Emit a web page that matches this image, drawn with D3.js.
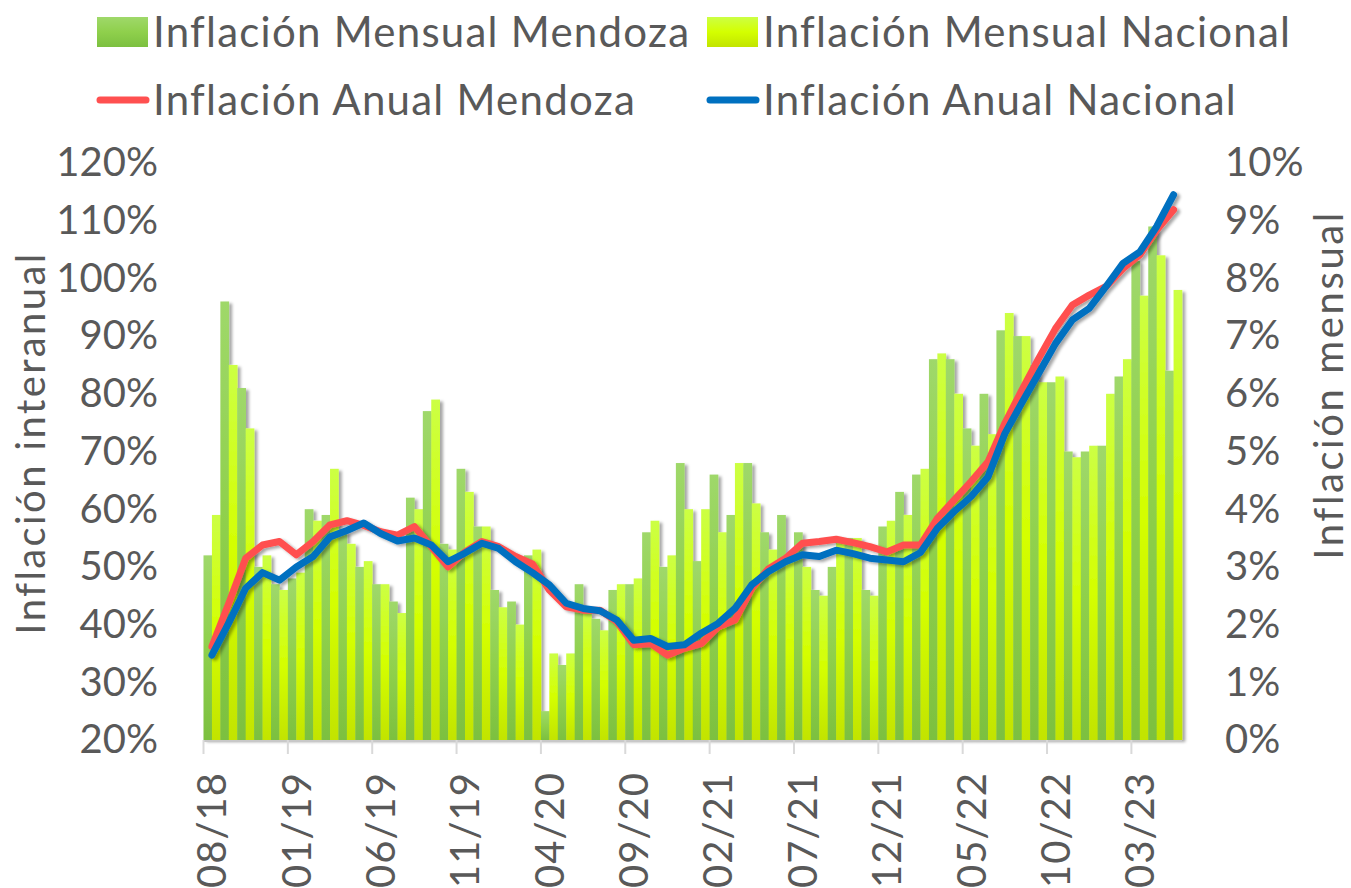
<!DOCTYPE html>
<html>
<head>
<meta charset="utf-8">
<script src="https://cdn.jsdelivr.net/npm/d3@7"></script>
<style>
  body { margin: 0; background: #fff; }
  text { font-family: Lato, "Open Sans", sans-serif; fill: #595959; }
</style>
</head>
<body>
<div id="chart"></div>
<script>
// Datos del gráfico
const meses = ["08/18","09/18","10/18","11/18","12/18","01/19","02/19","03/19","04/19","05/19",
  "06/19","07/19","08/19","09/19","10/19","11/19","12/19","01/20","02/20","03/20",
  "04/20","05/20","06/20","07/20","08/20","09/20","10/20","11/20","12/20","01/21",
  "02/21","03/21","04/21","05/21","06/21","07/21","08/21","09/21","10/21","11/21",
  "12/21","01/22","02/22","03/22","04/22","05/22","06/22","07/22","08/22","09/22",
  "10/22","11/22","12/22","01/23","02/23","03/23","04/23","05/23"];

const mensualMendoza = [3.2,7.6,6.1,3.0,2.7,2.8,4.0,3.9,3.6,3.0,
  2.7,2.4,4.2,5.7,3.4,4.7,3.7,2.6,2.4,3.2,
  0.5,1.3,2.7,2.1,2.6,2.7,3.6,3.0,4.8,3.1,
  4.6,3.9,4.8,3.6,3.9,3.6,2.6,3.0,3.5,2.6,
  3.7,4.3,4.6,6.6,6.6,5.4,6.0,7.1,7.0,6.5,
  6.2,5.0,5.0,5.1,6.3,8.3,8.9,6.4];

const mensualNacional = [3.9,6.5,5.4,3.2,2.6,2.9,3.8,4.7,3.4,3.1,
  2.7,2.2,4.0,5.9,3.3,4.3,3.7,2.3,2.0,3.3,
  1.5,1.5,2.2,1.9,2.7,2.8,3.8,3.2,4.0,4.0,
  3.6,4.8,4.1,3.3,3.2,3.0,2.5,3.5,3.5,2.5,
  3.8,3.9,4.7,6.7,6.0,5.1,5.3,7.4,7.0,6.2,
  6.3,4.9,5.1,6.0,6.6,7.7,8.4,7.8];

const anualMendoza = [36.2,43.7,51.5,53.8,54.4,52.1,54.4,57.3,58.0,57.2,
  56.1,55.5,57.0,53.5,50.0,52.6,54.4,53.5,51.8,50.5,
  46.0,43.1,42.5,42.5,40.5,36.5,36.7,34.7,35.9,36.7,
  39.6,40.8,46.3,49.7,51.5,54.1,54.4,54.8,54.2,53.5,
  52.6,53.8,53.8,58.4,61.6,64.8,68.2,74.9,80.6,86.1,
  91.3,95.4,97.1,98.6,101.7,104.1,108.4,111.9];

const anualNacional = [34.7,40.3,46.3,49.0,47.7,50.0,51.8,55.2,56.3,57.6,
  55.8,54.5,55.0,53.8,50.9,52.4,54.1,53.2,50.9,49.0,
  46.9,43.7,42.8,42.4,40.8,37.3,37.6,36.2,36.5,38.5,
  40.2,42.8,46.9,49.2,50.9,52.1,51.8,52.9,52.3,51.5,
  51.2,50.9,52.5,56.7,59.6,62.2,65.6,73.1,78.4,83.5,
  88.7,92.8,94.8,98.6,102.6,104.6,109.0,114.5];

const ticksIzq = [20,30,40,50,60,70,80,90,100,110,120];
const ticksDer = [0,1,2,3,4,5,6,7,8,9,10];
const mesesEtiqueta = meses.filter((m, i) => i % 5 === 0);

//------Armado de las series
const barras = meses.map((m, i) => ({ mes: m, Mendoza: mensualMendoza[i], Nacional: mensualNacional[i] }));
const lineas = [
  { nombre: "Inflación Anual Mendoza", color: "#ff5050", valores: anualMendoza },
  { nombre: "Inflación Anual Nacional", color: "#0070c0", valores: anualNacional }
];

//------SVG
const svg = d3.select("#chart").append("svg")
  .attr("width", 1351)
  .attr("height", 888);

const defs = svg.append("defs");

const gradMendoza = defs.append("linearGradient").attr("id", "gMendoza")
  .attr("x1", 0).attr("y1", 0).attr("x2", 0).attr("y2", 1);
gradMendoza.append("stop").attr("offset", "0%").attr("stop-color", "#9fd86a");
gradMendoza.append("stop").attr("offset", "50%").attr("stop-color", "#8fd04c");
gradMendoza.append("stop").attr("offset", "100%").attr("stop-color", "#7cc040");

const gradNacional = defs.append("linearGradient").attr("id", "gNacional")
  .attr("x1", 0).attr("y1", 0).attr("x2", 0).attr("y2", 1);
gradNacional.append("stop").attr("offset", "0%").attr("stop-color", "#ccff44");
gradNacional.append("stop").attr("offset", "50%").attr("stop-color", "#d4ff00");
gradNacional.append("stop").attr("offset", "100%").attr("stop-color", "#c2e400");

const sombra = defs.append("filter").attr("id", "sombra")
  .attr("x", "-5%").attr("y", "-5%").attr("width", "115%").attr("height", "115%");
sombra.append("feDropShadow")
  .attr("dx", 3).attr("dy", 2).attr("stdDeviation", 1.8)
  .attr("flood-color", "#000").attr("flood-opacity", 0.35);

//------Escalas
const x = d3.scaleBand().domain(meses).range([203.5, 1182]).padding(0);
const xSub = d3.scaleBand().domain(["Mendoza", "Nacional"]).range([0, x.bandwidth()]).padding(0);
const yDer = d3.scaleLinear().domain([0, 10]).range([740, 163]);
const yIzq = d3.scaleLinear().domain([20, 120]).range([740, 163]);

//------Barras mensuales
const gBarras = svg.append("g").attr("filter", "url(#sombra)");
gBarras.selectAll(".mes")
  .data(barras)
  .join("g")
  .attr("transform", d => `translate(${x(d.mes)},0)`)
  .selectAll("rect")
  .data(d => ["Mendoza", "Nacional"].map(k => ({ k, v: d[k] })))
  .join("rect")
  .attr("x", d => xSub(d.k))
  .attr("width", xSub.bandwidth() + 0.3)
  .attr("y", d => yDer(d.v))
  .attr("height", d => yDer(0) - yDer(d.v))
  .attr("fill", d => d.k === "Mendoza" ? "url(#gMendoza)" : "url(#gNacional)");

//------Eje x
svg.append("line")
  .attr("x1", 203.5).attr("x2", 1182)
  .attr("y1", 741).attr("y2", 741)
  .attr("stroke", "#c8c8c8").attr("stroke-width", 2);

svg.append("g").selectAll("line")
  .data(mesesEtiqueta)
  .join("line")
  .attr("x1", d => x(d)).attr("x2", d => x(d))
  .attr("y1", 740).attr("y2", 754)
  .attr("stroke", "#d9d9d9").attr("stroke-width", 2);

const ejeX = svg.append("g")
  .attr("transform", "translate(0,740)")
  .call(d3.axisBottom(x).tickValues(mesesEtiqueta).tickSize(0));
ejeX.select(".domain").remove();
ejeX.selectAll("text")
  .attr("transform", "rotate(-90)")
  .attr("x", -32).attr("y", 0)
  .attr("dy", "0.36em")
  .style("text-anchor", "end")
  .style("font-size", "40px")
  .style("letter-spacing", "1px")
  .style("font-family", "Lato, sans-serif")
  .attr("fill", "#595959");

//------Ejes y
const ejeIzq = svg.append("g")
  .attr("transform", "translate(158,0)")
  .call(d3.axisLeft(yIzq).tickValues(ticksIzq).tickSize(0).tickPadding(0).tickFormat(d => d + "%"));
ejeIzq.select(".domain").remove();
ejeIzq.selectAll("text")
  .style("font-size", "40px").style("font-family", "Lato, sans-serif").attr("fill", "#595959");

const ejeDer = svg.append("g")
  .attr("transform", "translate(1225,0)")
  .call(d3.axisRight(yDer).tickValues(ticksDer).tickSize(0).tickPadding(0).tickFormat(d => d + "%"));
ejeDer.select(".domain").remove();
ejeDer.selectAll("text")
  .style("font-size", "40px").style("font-family", "Lato, sans-serif").attr("fill", "#595959");

svg.append("text")
  .attr("transform", "translate(45,443) rotate(-90)")
  .attr("text-anchor", "middle")
  .style("font-size", "40px")
  .style("letter-spacing", "2.4px")
  .text("Inflación interanual");

svg.append("text")
  .attr("transform", "translate(1343,385) rotate(-90)")
  .attr("text-anchor", "middle")
  .style("font-size", "40px")
  .style("letter-spacing", "2.6px")
  .text("Inflación mensual");

//------Líneas anuales
const linea = d3.line()
  .x((d, i) => x(meses[i]) + x.bandwidth() / 2)
  .y(d => yIzq(d));

svg.append("g").attr("filter", "url(#sombra)")
  .selectAll("path")
  .data(lineas)
  .join("path")
  .attr("d", d => linea(d.valores))
  .attr("fill", "none")
  .attr("stroke", d => d.color)
  .attr("stroke-width", 7)
  .attr("stroke-linejoin", "round")
  .attr("stroke-linecap", "round");

//------Leyenda
const leyenda = [
  { nombre: "Inflación Mensual Mendoza", tipo: "barra", fill: "url(#gMendoza)", x: 97, y: 32 },
  { nombre: "Inflación Mensual Nacional", tipo: "barra", fill: "url(#gNacional)", x: 707, y: 32 },
  { nombre: "Inflación Anual Mendoza", tipo: "linea", fill: "#ff5050", x: 97, y: 100 },
  { nombre: "Inflación Anual Nacional", tipo: "linea", fill: "#0070c0", x: 707, y: 100 }
];
const gLey = svg.append("g").selectAll("g").data(leyenda).join("g")
  .attr("transform", d => `translate(${d.x},${d.y})`);
gLey.filter(d => d.tipo === "barra").append("rect")
  .attr("x", 0).attr("y", -15).attr("width", 51).attr("height", 30)
  .attr("fill", d => d.fill);
gLey.filter(d => d.tipo === "linea").append("line")
  .attr("x1", 3).attr("x2", 49).attr("y1", 0).attr("y2", 0)
  .attr("stroke", d => d.fill).attr("stroke-width", 7).attr("stroke-linecap", "round");
gLey.append("text")
  .attr("x", 56).attr("y", 15)
  .style("font-size", "42px")
  .style("letter-spacing", "1.25px")
  .text(d => d.nombre);
</script>
</body>
</html>
